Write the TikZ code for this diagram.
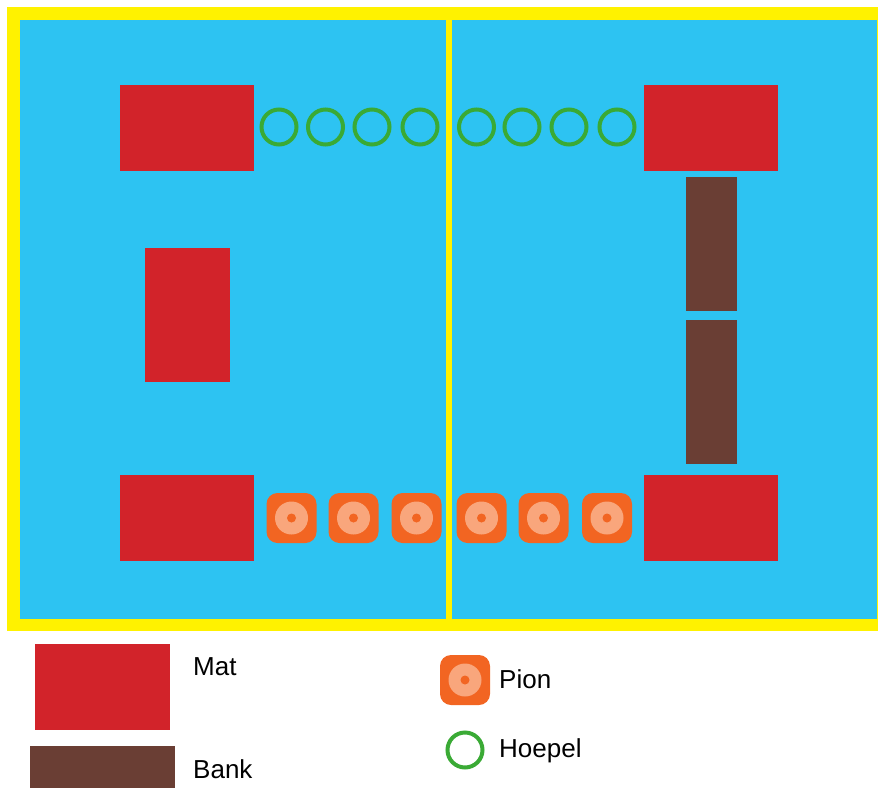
\documentclass[tikz,border=0pt]{standalone}
\usepackage{fontspec}
\setmainfont{Liberation Sans}
\definecolor{field}{HTML}{2DC3F2}
\definecolor{lineyel}{HTML}{FFF200}
\definecolor{matred}{HTML}{D2232A}
\definecolor{bankbrown}{HTML}{6A3E34}
\definecolor{hoopgreen}{HTML}{3AAA35}
\definecolor{pionorange}{HTML}{F26522}
\definecolor{pionpeach}{HTML}{F9A67C}
\tikzset{
  mat/.style={fill=matred, inner sep=0pt, minimum width=134pt, minimum height=86pt},
  matv/.style={fill=matred, inner sep=0pt, minimum width=85pt, minimum height=134pt},
  bank/.style={fill=bankbrown, inner sep=0pt, minimum width=51pt},
  hoop/.style={circle, draw=hoopgreen, line width=4pt, inner sep=0pt, minimum size=35pt},
  pion/.style={fill=pionorange, rounded corners=11pt, inner sep=0pt, minimum size=50pt},
  lbl/.style={anchor=base west, inner sep=0pt, font=\fontsize{26}{30}\selectfont}
}
\begin{document}
\begin{tikzpicture}[x=1pt,y=-1pt]
\useasboundingbox (0,0) rectangle (878,787);
\clip (0,0) rectangle (878,787);
% field
\fill[lineyel] (7,7) rectangle (900,631);
\fill[field] (20,20) rectangle (877,619);
\fill[lineyel] (445.5,20) rectangle (451.5,619);
% mats
\node[mat] (m1) at (186.5,127.5) {};
\node[mat] (m2) at (710.5,127.5) {};
\node[matv] (m3) at (187,315) {};
\node[mat] (m4) at (186.5,517.5) {};
\node[mat] (m5) at (710.5,518) {};
% banks
\node[bank, minimum height=134pt] (b1) at (711,244) {};
\node[bank, minimum height=144pt] (b2) at (711,392) {};
% hoops
\foreach \x [count=\i] in {279,325.5,372,420,476.5,522,569,617}
  \node[hoop] (h\i) at (\x,127) {};
% pions
\foreach \x [count=\i] in {291.5,353.5,416.5,481.5,543.5,607}{
  \node[pion] (p\i) at (\x,518) {};
  \fill[pionpeach] (p\i.center) circle (16.5pt);
  \fill[pionorange] (p\i.center) circle (4.5pt);
}
% legend
\node[fill=matred, inner sep=0pt, minimum width=135pt, minimum height=86pt] (lm) at (102.5,686.5) {};
\node[fill=bankbrown, inner sep=0pt, minimum width=145pt, minimum height=50pt] (lb) at (102.5,771) {};
\node[lbl] (tm) at (193,675) {Mat};
\node[lbl] (tb) at (193,778) {Bank};
\node[pion] (lp) at (465,680) {};
\fill[pionpeach] (lp.center) circle (16.5pt);
\fill[pionorange] (lp.center) circle (4.5pt);
\node[lbl] (tp) at (499,688) {Pion};
\node[hoop] (lh) at (465,750) {};
\node[lbl] (th) at (499,757) {Hoepel};
\end{tikzpicture}
\end{document}
